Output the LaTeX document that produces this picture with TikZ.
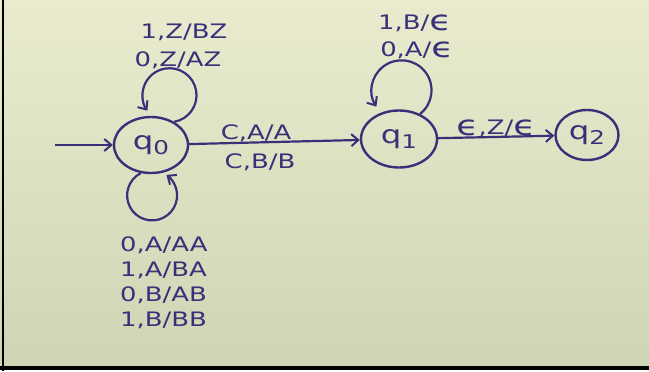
\documentclass[tikz,border=0pt]{standalone}
\usepackage{fontspec}
\setmainfont{DejaVu Sans}
\newfontfamily\handfont[FakeStretch=1.3]{DejaVu Sans}
\usetikzlibrary{shapes.geometric,arrows.meta}
\definecolor{ink}{RGB}{58,48,122}
\definecolor{paperTop}{RGB}{234,235,206}
\definecolor{paperBot}{RGB}{206,213,180}
% a larger epsilon, as tall as the capitals beside it
\newcommand{\bigeps}{\raisebox{-0.1ex}{\scalebox{1.4}{ϵ}}}
\begin{document}
\begin{tikzpicture}[x=1bp,y=1bp,
  state/.style={ellipse, draw=ink, line width=2.4bp, inner sep=0pt, text=ink,
    font=\handfont\fontsize{25}{25}\selectfont},
  lbl/.style={text=ink, inner sep=0pt, font=\handfont\fontsize{20}{22}\selectfont},
  tip/.style={-{Straight Barb[length=7bp,width=12bp,line width=2bp]}},
  wire/.style={draw=ink, line width=2.2bp, tip}]
% page: paper sheet with a dark frame on the left and bottom
\useasboundingbox (0,0) rectangle (649,-371);
\fill[white] (0,0) rectangle (649,-371);
\shade[top color=paperTop, bottom color=paperBot] (0,0) rectangle (649,-366);
\fill[black] (1.7,0) rectangle (4.3,-371);
\fill[black] (0,-366) rectangle (649,-369.5);

% states
\node[state, minimum width=74bp, minimum height=56bp] (q0) at (151,-145)
  {q\raisebox{-0.35ex}{\fontsize{19}{19}\selectfont 0}};
\node[state, minimum width=76bp, minimum height=57bp] (q1) at (399,-139)
  {q\raisebox{-0.35ex}{\fontsize{19}{19}\selectfont 1}};
\node[state, minimum width=63bp, minimum height=50bp] (q2) at (587,-135)
  {q\raisebox{-0.35ex}{\fontsize{19}{19}\selectfont 2}};

% start arrow
\coordinate (start) at (55,-145);
\draw[wire] (start) -- (q0.west);

% transitions between states
\draw[wire] (q0) -- (q1);
\draw[wire] (q1) -- (q2);

% self loops
\draw[wire] (q0.45) arc[start angle=-80, end angle=215, radius=27bp];
\draw[wire] (q0.250) arc[start angle=117, end angle=415, radius=25bp];
\draw[wire] (q1.50) arc[start angle=-52, end angle=213, radius=30bp];

% transition labels
\node[lbl] (l01) at (184,-32) {1,Z/BZ};
\node[lbl] (l02) at (178,-60) {0,Z/AZ};

\node[lbl] (l11) at (415,-23) {1,B/\bigeps};
\node[lbl] (l12) at (417,-50) {0,A/\bigeps};

\node[lbl] (e1) at (256,-133) {C,A/A};
\node[lbl] (e2) at (260,-162) {C,B/B};

\node[lbl] (e3) at (496,-128) {\bigeps,Z/\bigeps};

\node[lbl, anchor=west] (b1) at (120,-245) {0,A/AA};
\node[lbl, anchor=west] (b2) at (120,-270) {1,A/BA};
\node[lbl, anchor=west] (b3) at (120,-295) {0,B/AB};
\node[lbl, anchor=west] (b4) at (120,-320) {1,B/BB};
\end{tikzpicture}
\end{document}
